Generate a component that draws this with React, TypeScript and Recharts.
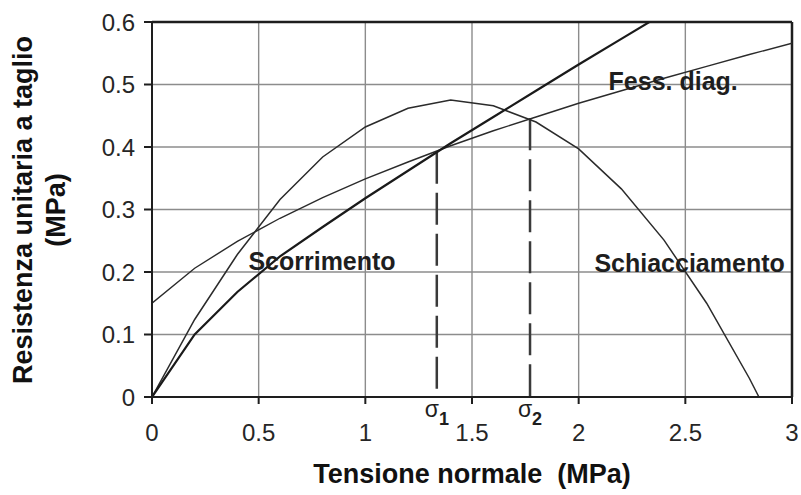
import React from "react";
import {
  LineChart, Line, XAxis, YAxis, CartesianGrid, ReferenceLine, ReferenceDot, Label,
} from "recharts";

// Scorrimento (sliding)
const scorrX = [0, 0.2, 0.4, 0.6, 0.8, 1.0, 1.2, 1.4, 1.6, 1.8, 2.0, 2.2, 2.4];
const scorrY = [0, 0.1, 0.168, 0.225, 0.272, 0.318, 0.362, 0.406, 0.448, 0.49, 0.532, 0.573, 0.614];

// Fessurazione diagonale
const fessX = [0, 0.2, 0.4, 0.6, 0.8, 1.0, 1.2, 1.4, 1.6, 1.8, 2.0, 2.2, 2.4, 2.6, 2.8, 3.0];
const fessY = [0.15, 0.206, 0.249, 0.286, 0.319, 0.349, 0.376, 0.402, 0.426, 0.448, 0.47, 0.49, 0.51, 0.529, 0.548, 0.566];

// Schiacciamento (crushing)
const schX = [0, 0.2, 0.4, 0.6, 0.8, 1.0, 1.2, 1.4, 1.6, 1.8, 2.0, 2.2, 2.4, 2.6, 2.8, 2.845];
const schY = [0, 0.124, 0.228, 0.316, 0.384, 0.432, 0.462, 0.475, 0.466, 0.44, 0.397, 0.333, 0.251, 0.15, 0.03, 0];

// sigma_1 / sigma_2 intersections
const sigmaX = [1.335, 1.772];
const sigmaY = [0.3925, 0.446];
const sigmaNames = ["1", "2"];

const xTicks = [0, 0.5, 1, 1.5, 2, 2.5, 3];
const yTicks = [0, 0.1, 0.2, 0.3, 0.4, 0.5, 0.6];

const toData = (xs: number[], ys: number[]) => xs.map((x, i) => ({ x, y: ys[i] }));

const FONT = "'Liberation Sans', Arial, sans-serif";
const INK = "#1e1e1e";

// annotation text placed through the chart scales
function note(text: string) {
  return (props: any) => {
    const { x, y } = props.viewBox;
    return (
      <text x={x} y={y} textAnchor="middle" dominantBaseline="central"
        fontFamily={FONT} fontWeight="bold" fontSize={25} fill={INK}>
        {text}
      </text>
    );
  };
}

function sigmaLabel(sub: string) {
  return (props: any) => {
    const { x, y } = props.viewBox;
    return (
      <text x={x} y={y + 20} textAnchor="middle" fontFamily={FONT} fontSize={23} fill={INK}>
        σ<tspan dy={8} fontSize={18} fontWeight="bold">{sub}</tspan>
      </text>
    );
  };
}

export default function App() {
  return (
    <div style={{ position: "absolute", left: 0, top: 0, width: 801, height: 495, background: "#fff" }}>
      <LineChart width={801} height={495} margin={{ top: 22, right: 9, bottom: 0, left: 0 }}>
        <CartesianGrid stroke="#8c8c8c" strokeWidth={1.4} />
        <XAxis
          dataKey="x"
          type="number"
          domain={[0, 3]}
          ticks={xTicks}
          allowDataOverflow
          height={98}
          stroke={INK}
          strokeWidth={2}
          tickSize={7}
          tickMargin={20}
          tick={{ fill: "#262626", fontSize: 24, fontFamily: FONT }}
        >
          <Label value={"Tensione normale\u00a0\u00a0(MPa)"} position="insideBottom" offset={12}
            style={{ fontFamily: FONT, fontWeight: "bold", fontSize: 27, fill: "#111" }} />
        </XAxis>
        <YAxis
          type="number"
          domain={[0, 0.6]}
          ticks={yTicks}
          allowDataOverflow
          width={152}
          stroke={INK}
          strokeWidth={2}
          tickSize={8}
          tickMargin={9}
          tick={{ fill: "#262626", fontSize: 24, fontFamily: FONT }}
          label={{
            content: () => (
              <g fontFamily={FONT} fontWeight="bold" fontSize={27} fill="#111">
                <text x={23} y={210} textAnchor="middle" dominantBaseline="central" transform="rotate(-90 23 210)">
                  Resistenza unitaria a taglio
                </text>
                <text x={56} y={210} textAnchor="middle" dominantBaseline="central" transform="rotate(-90 56 210)">
                  (MPa)
                </text>
              </g>
            ),
          }}
        />
        <ReferenceLine y={0.6} stroke={INK} strokeWidth={2.5} />
        <ReferenceLine x={3} stroke={INK} strokeWidth={2.5} />

        {sigmaX.map((sx, i) => (
          <ReferenceLine
            key={"s" + i}
            segment={[{ x: sx, y: sigmaY[i] }, { x: sx, y: 0 }]}
            stroke="#3a3a3a"
            strokeWidth={2.5}
            strokeDasharray="32 9"
          />
        ))}

        <Line data={toData(schX, schY)} dataKey="y" type="linear" stroke="#2b2b2b" strokeWidth={1.5} dot={false} isAnimationActive={false} />
        <Line data={toData(fessX, fessY)} dataKey="y" type="linear" stroke="#2b2b2b" strokeWidth={1.4} dot={false} isAnimationActive={false} />
        <Line data={toData(scorrX, scorrY)} dataKey="y" type="linear" stroke="#1a1a1a" strokeWidth={2.2} dot={false} isAnimationActive={false} />

        <ReferenceDot x={0.797} y={0.217} r={0} fill="none" stroke="none" label={{ content: note("Scorrimento") }} />
        <ReferenceDot x={2.52} y={0.214} r={0} fill="none" stroke="none" label={{ content: note("Schiacciamento") }} />
        <ReferenceDot x={2.443} y={0.505} r={0} fill="none" stroke="none" label={{ content: note("Fess. diag.") }} />
        {sigmaX.map((sx, i) => (
          <ReferenceDot key={"l" + i} x={sx} y={0} r={0} fill="none" stroke="none" label={{ content: sigmaLabel(sigmaNames[i]) }} />
        ))}
      </LineChart>
    </div>
  );
}
